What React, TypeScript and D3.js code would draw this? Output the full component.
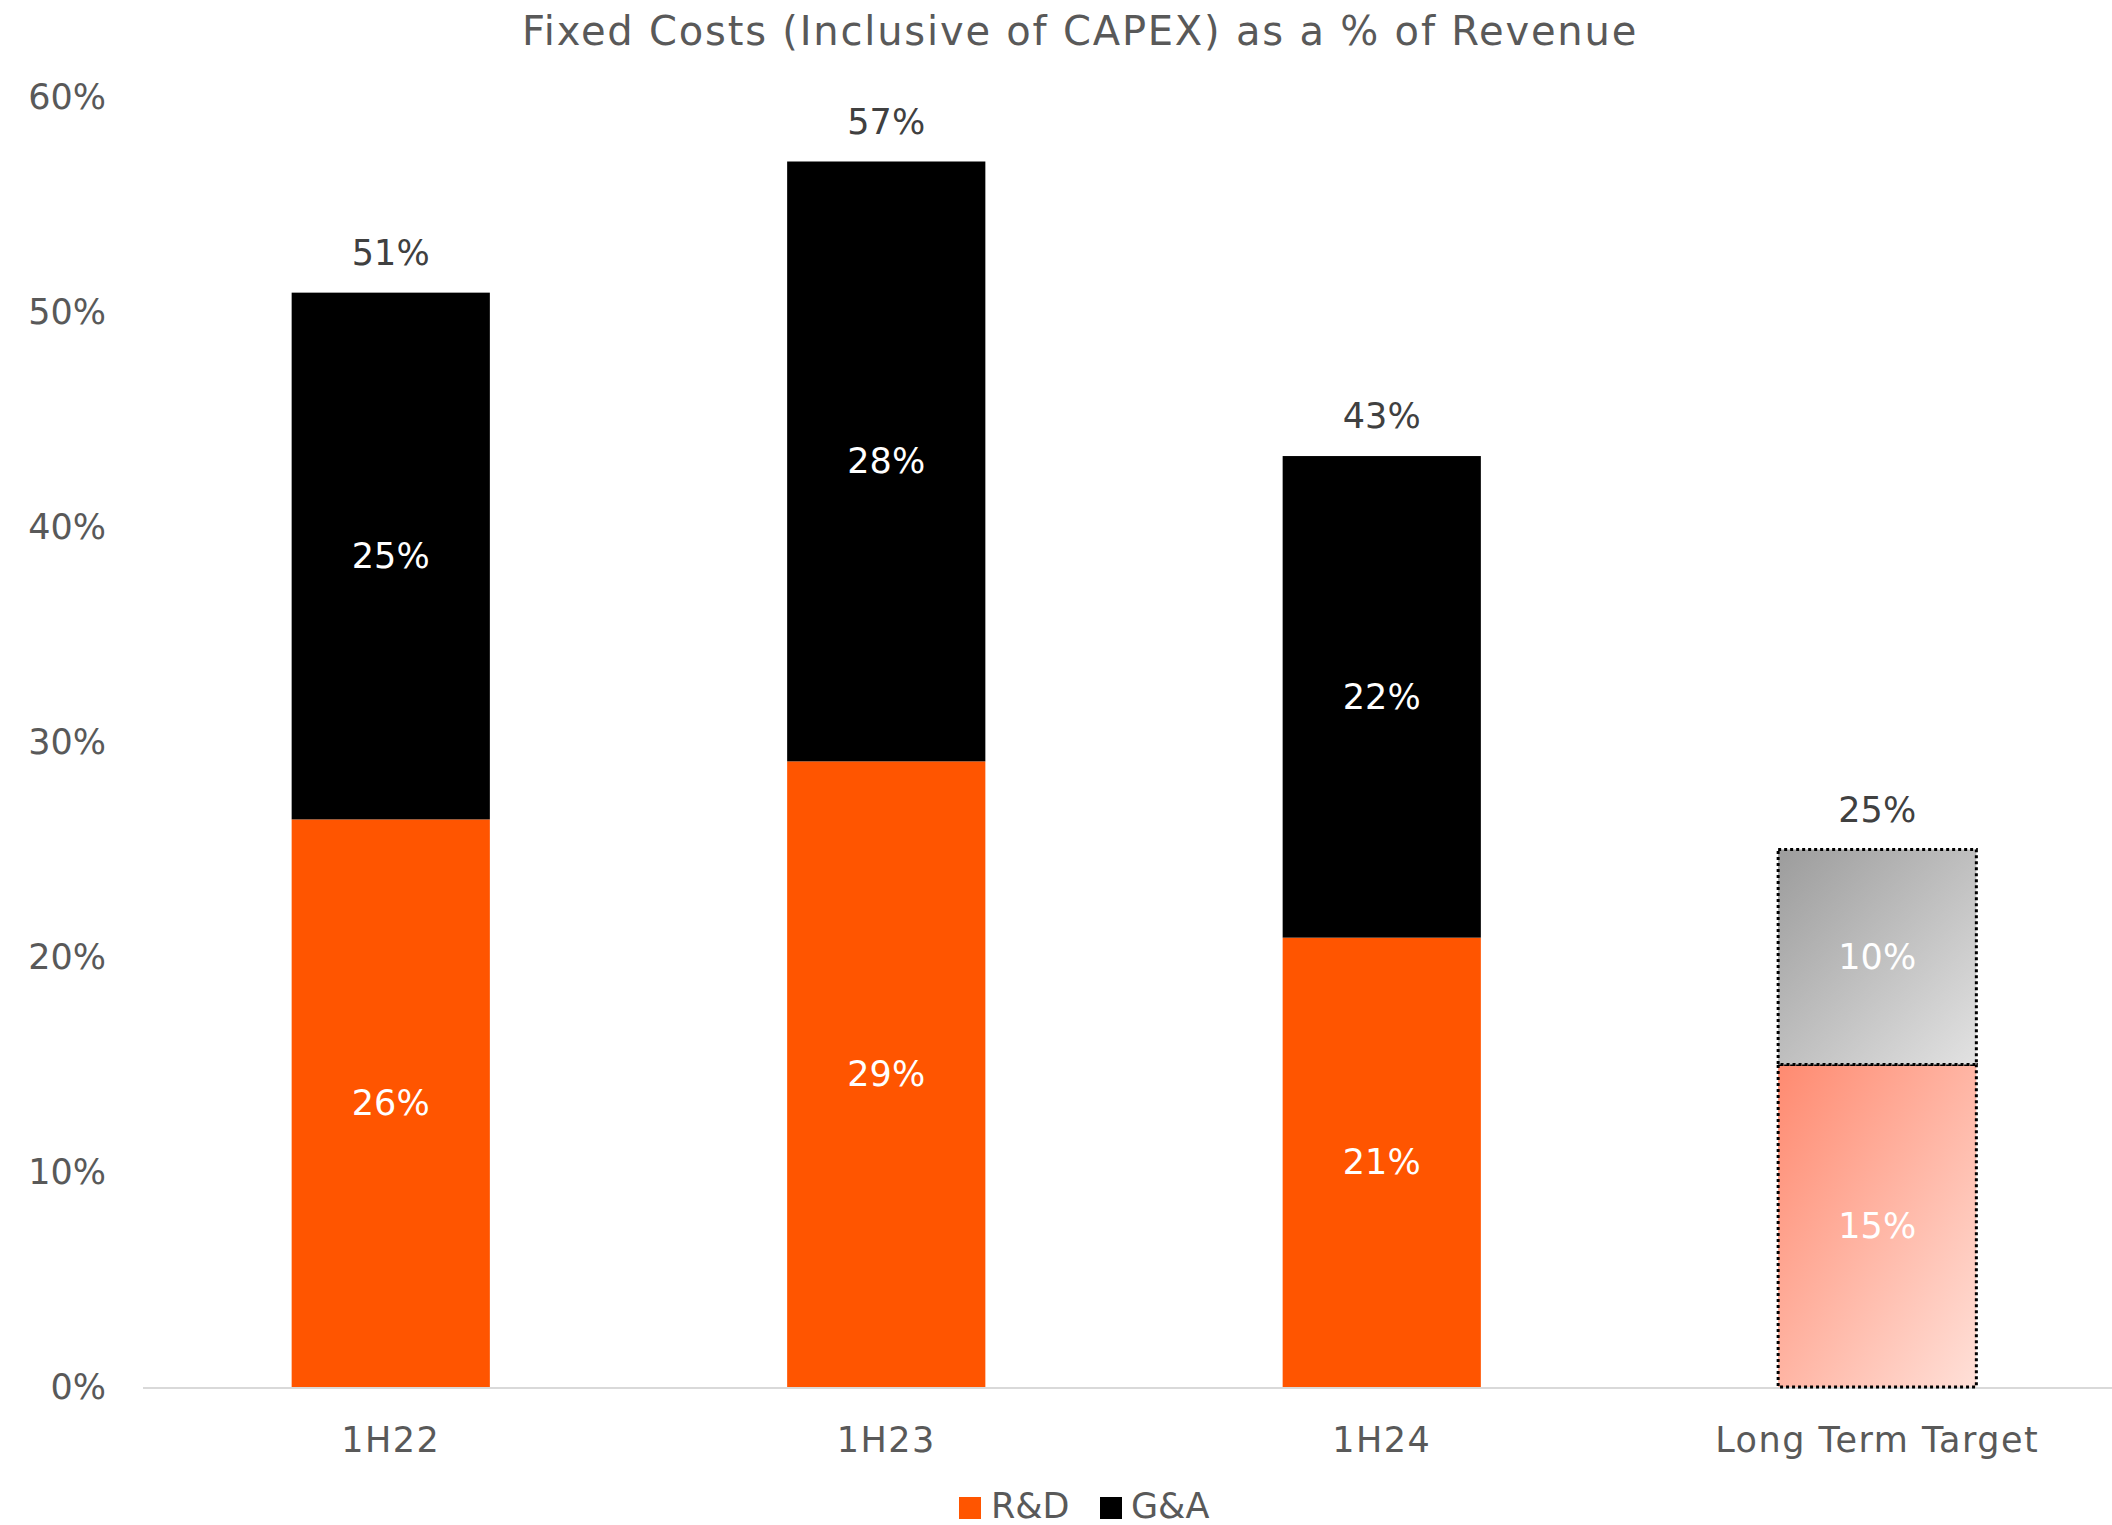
import React from "react";
import * as d3 from "d3";

const categories = ["1H22", "1H23", "1H24", "Long Term Target"];
const rdValues = [26.4, 29.1, 20.9, 15];
const gaValues = [24.5, 27.9, 22.4, 10];
const rdLabels = ["26%", "29%", "21%", "15%"];
const gaLabels = ["25%", "28%", "22%", "10%"];
const totalLabels = ["51%", "57%", "43%", "25%"];
const yTicks = [0, 10, 20, 30, 40, 50, 60];
const legendItems = ["R&D", "G&A"];

const W = 2112;
const H = 1525;
const FONT = "'DejaVu Sans', sans-serif";
const ORANGE = "#ff5500";
const TEXT = "#595959";
const FS = 35;

export default function App() {
  const x = d3.scaleBand<string>().domain(categories).range([143, 2125]).paddingInner(0.6).paddingOuter(0.3);
  const y = d3.scaleLinear().domain([0, 60]).range([1387, 97]);
  const bw = x.bandwidth();
  const lastIdx = categories.length - 1;

  return (
    <svg width={W} height={H} style={{ position: "absolute", left: 0, top: 0, background: "#fff" }} fontFamily={FONT}>
      <defs>
        <linearGradient id="gGray" x1="0" y1="0" x2="1" y2="1">
          <stop offset="0%" stopColor="#9c9c9c" />
          <stop offset="100%" stopColor="#e2e2e2" />
        </linearGradient>
        <linearGradient id="gPink" x1="0" y1="0" x2="1" y2="1">
          <stop offset="0%" stopColor="#ff8a70" />
          <stop offset="100%" stopColor="#ffe0d8" />
        </linearGradient>
      </defs>
      <text x={1080} y={31} textAnchor="middle" dominantBaseline="central" fontSize={40} letterSpacing={1.8} fill={TEXT}>
        Fixed Costs (Inclusive of CAPEX) as a % of Revenue
      </text>
      {yTicks.map((t) => (
        <text key={t} x={106} y={y(t)} textAnchor="end" dominantBaseline="central" fontSize={FS} fill={TEXT}>
          {t}%
        </text>
      ))}
      <line x1={143} x2={2112} y1={y(0) + 1} y2={y(0) + 1} stroke="#d9d9d9" strokeWidth={2} />
      {categories.map((c, i) => {
        const x0 = x(c)!;
        const isTarget = i === lastIdx;
        const rdTop = y(rdValues[i]);
        const totTop = y(rdValues[i] + gaValues[i]);
        const cx = x0 + bw / 2;
        return (
          <g key={c}>
            <rect
              x={x0}
              y={rdTop}
              width={bw}
              height={y(0) - rdTop}
              fill={isTarget ? "url(#gPink)" : ORANGE}
              stroke={isTarget ? "#000" : "none"}
              strokeWidth={3}
              strokeDasharray={isTarget ? "3 3" : undefined}
            />
            <rect
              x={x0}
              y={totTop}
              width={bw}
              height={rdTop - totTop}
              fill={isTarget ? "url(#gGray)" : "#000"}
              stroke={isTarget ? "#000" : "none"}
              strokeWidth={3}
              strokeDasharray={isTarget ? "3 3" : undefined}
            />
            <text x={cx} y={(rdTop + y(0)) / 2} textAnchor="middle" dominantBaseline="central" fontSize={FS} fill="#fff">
              {rdLabels[i]}
            </text>
            <text x={cx} y={(rdTop + totTop) / 2} textAnchor="middle" dominantBaseline="central" fontSize={FS} fill="#fff">
              {gaLabels[i]}
            </text>
            <text x={cx} y={totTop - 40} textAnchor="middle" dominantBaseline="central" fontSize={FS} fill="#404040">
              {totalLabels[i]}
            </text>
            <text x={cx} y={1440} textAnchor="middle" dominantBaseline="central" fontSize={FS} letterSpacing={1.5} fill={TEXT}>
              {c}
            </text>
          </g>
        );
      })}
      <g>
        <rect x={959} y={1497} width={22} height={22} fill={ORANGE} />
        <text x={991} y={1506} dominantBaseline="central" fontSize={FS} fill={TEXT}>
          {legendItems[0]}
        </text>
        <rect x={1100} y={1497} width={22} height={22} fill="#000" />
        <text x={1131} y={1506} dominantBaseline="central" fontSize={FS} fill={TEXT}>
          {legendItems[1]}
        </text>
      </g>
    </svg>
  );
}
